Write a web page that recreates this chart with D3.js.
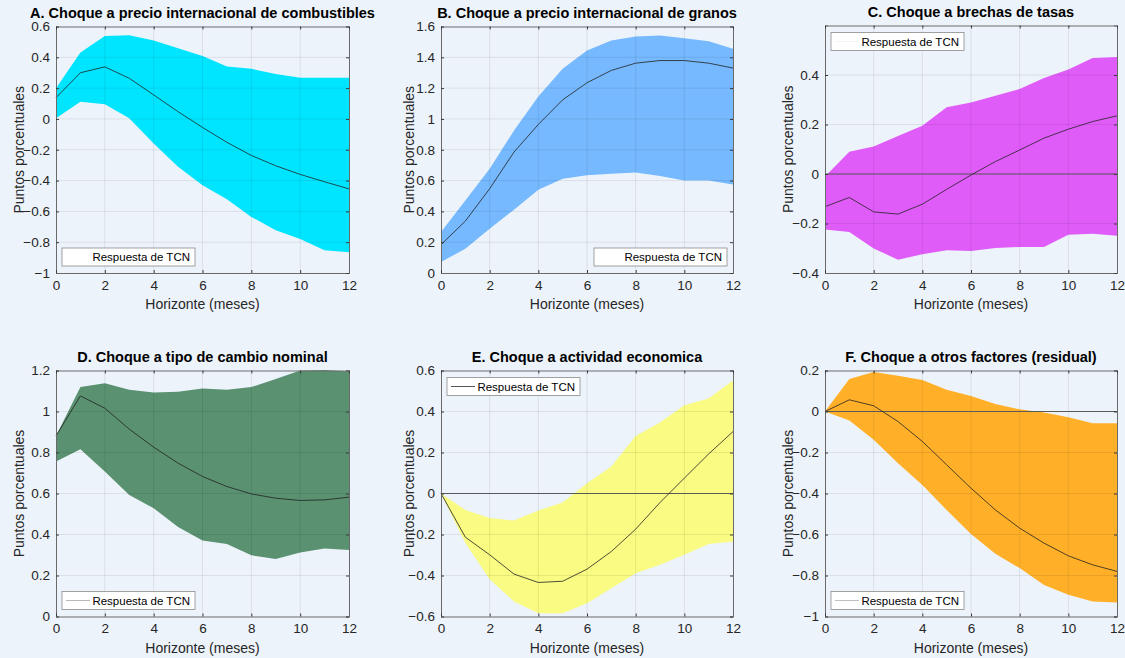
<!DOCTYPE html>
<html>
<head>
<meta charset="utf-8">
<title>Respuesta de TCN a choques</title>
<script src="https://cdn.jsdelivr.net/npm/d3@7"></script>
<style>
  body { margin: 0; background: #edf3fa; }
  svg { display: block; font-family: "Liberation Sans", Arial, Helvetica, sans-serif; }
</style>
</head>
<body>
<div id="chart"></div>
<script>
// horizonte en meses
var horizon = [0,1,2,3,4,5,6,7,8,9,10,11,12];

// A. combustibles
var meanA  = [0.138,0.300,0.338,0.264,0.156,0.047,-0.055,-0.152,-0.237,-0.304,-0.360,-0.408,-0.454];
var upperA = [0.200,0.431,0.539,0.544,0.509,0.459,0.409,0.340,0.325,0.292,0.268,0.268,0.268];
var lowerA = [0.004,0.112,0.095,0.004,-0.159,-0.310,-0.430,-0.521,-0.636,-0.722,-0.779,-0.853,-0.866];

// B. granos
var meanB  = [0.184,0.337,0.547,0.785,0.964,1.124,1.235,1.315,1.362,1.379,1.379,1.362,1.330];
var upperB = [0.266,0.471,0.677,0.925,1.146,1.325,1.444,1.509,1.535,1.542,1.524,1.505,1.455];
var lowerB = [0.071,0.158,0.288,0.411,0.541,0.612,0.634,0.644,0.653,0.629,0.601,0.601,0.575];

// C. brechas de tasas
var meanC  = [-0.132,-0.095,-0.153,-0.162,-0.122,-0.062,-0.004,0.050,0.097,0.145,0.181,0.212,0.235];
var upperC = [-0.010,0.090,0.111,0.154,0.195,0.270,0.289,0.316,0.343,0.388,0.422,0.469,0.473];
var lowerC = [-0.224,-0.234,-0.301,-0.346,-0.324,-0.308,-0.311,-0.299,-0.295,-0.295,-0.245,-0.241,-0.249];

// D. tipo de cambio nominal
var meanD  = [0.881,1.076,1.016,0.914,0.826,0.748,0.683,0.634,0.598,0.577,0.566,0.569,0.582];
var upperD = [0.880,1.119,1.138,1.106,1.093,1.096,1.112,1.106,1.119,1.158,1.200,1.203,1.195];
var lowerD = [0.756,0.816,0.707,0.593,0.528,0.436,0.371,0.354,0.299,0.280,0.312,0.332,0.325];

// E. actividad economica
var meanE  = [0,-0.213,-0.299,-0.393,-0.434,-0.428,-0.369,-0.283,-0.174,-0.044,0.075,0.193,0.302];
var upperE = [0,-0.080,-0.120,-0.132,-0.083,-0.044,0.050,0.132,0.281,0.346,0.431,0.463,0.551];
var lowerE = [0,-0.242,-0.418,-0.527,-0.584,-0.584,-0.535,-0.462,-0.389,-0.348,-0.299,-0.246,-0.234];

// F. otros factores (residual)
var meanF  = [0,0.057,0.028,-0.049,-0.146,-0.260,-0.374,-0.480,-0.569,-0.642,-0.704,-0.748,-0.780];
var upperF = [0,0.158,0.193,0.174,0.154,0.106,0.076,0.037,0.011,-0.005,-0.028,-0.057,-0.057];
var lowerF = [0,-0.044,-0.138,-0.252,-0.358,-0.480,-0.597,-0.694,-0.764,-0.846,-0.894,-0.927,-0.932];

var titles = [
  "A. Choque a precio internacional de combustibles",
  "B. Choque a precio internacional de granos",
  "C. Choque a brechas de tasas",
  "D. Choque a tipo de cambio nominal",
  "E. Choque a actividad economica",
  "F. Choque a otros factores (residual)"
];
var yDomains = [[-1,0.6],[0,1.6],[-0.4,0.6],[0,1.2],[-0.6,0.6],[-1,0.2]];
var yTicks = [
  [-1,-0.8,-0.6,-0.4,-0.2,0,0.2,0.4,0.6],
  [0,0.2,0.4,0.6,0.8,1,1.2,1.4,1.6],
  [-0.4,-0.2,0,0.2,0.4],
  [0,0.2,0.4,0.6,0.8,1,1.2],
  [-0.6,-0.4,-0.2,0,0.2,0.4,0.6],
  [-1,-0.8,-0.6,-0.4,-0.2,0,0.2]
];
var xTicks = [0,2,4,6,8,10,12];
var legendLabel = "Respuesta de TCN";

var W = 1125, H = 658;
var svg = d3.select("#chart").append("svg").attr("width", W).attr("height", H);
svg.append("rect").attr("width", W).attr("height", H).attr("fill", "#edf3fa");

// axes boxes (left, top, width, height)
var boxes = [
  [56, 26.5, 293, 246.5], [441, 26.5, 292, 246.5], [825, 25.5, 292, 247.5],
  [56, 370.5, 293, 246], [441, 370.5, 292, 246], [825, 370.5, 292, 246]
];
var colors = ["#00e5ff", "#76b9fe", "#e05cf9", "#5a9171", "#f9fb82", "#ffb028"];
var legendPos = ["bl", "br", "tl", "bl", "tl", "bl"];
var legendLine = ["#ffffff", "#ffffff", "#f4f4f4", "#b8b8b8", "#555555", "#c0c0c0"];
var zeroLine = [false, false, true, false, true, true];
var series = [
  [meanA, upperA, lowerA], [meanB, upperB, lowerB], [meanC, upperC, lowerC],
  [meanD, upperD, lowerD], [meanE, upperE, lowerE], [meanF, upperF, lowerF]
];

var fmt = function(d){ return d3.format("")(Math.round(d*10)/10); };

series.forEach(function(s, i){
  var b = boxes[i];
  var x = d3.scaleLinear().domain([0,12]).range([b[0], b[0]+b[2]]);
  var y = d3.scaleLinear().domain(yDomains[i]).range([b[1]+b[3], b[1]]);
  var g = svg.append("g");

  // band
  var area = d3.area()
    .x(function(d, j){ return x(horizon[j]); })
    .y0(function(d, j){ return y(s[2][j]); })
    .y1(function(d, j){ return y(s[1][j]); });
  g.append("path").datum(horizon).attr("d", area).attr("fill", colors[i]);

  // grid (drawn over the band, faint, like matlab)
  g.selectAll(".gx").data(xTicks.slice(1, -1)).enter().append("line")
    .attr("x1", function(d){ return x(d); }).attr("x2", function(d){ return x(d); })
    .attr("y1", b[1]).attr("y2", b[1]+b[3])
    .attr("stroke", "#000").attr("stroke-opacity", 0.1).attr("stroke-width", 0.8);
  g.selectAll(".gy").data(yTicks[i].filter(function(t){ return t > yDomains[i][0] && t < yDomains[i][1]; }))
    .enter().append("line")
    .attr("x1", b[0]).attr("x2", b[0]+b[2])
    .attr("y1", function(d){ return y(d); }).attr("y2", function(d){ return y(d); })
    .attr("stroke", "#000").attr("stroke-opacity", 0.1).attr("stroke-width", 0.8);

  if (zeroLine[i]) {
    g.append("line").attr("x1", b[0]).attr("x2", b[0]+b[2])
      .attr("y1", y(0)).attr("y2", y(0))
      .attr("stroke", "#5a5a5a").attr("stroke-width", 1);
  }

  // mean response
  var line = d3.line()
    .x(function(d, j){ return x(horizon[j]); })
    .y(function(d){ return y(d); });
  g.append("path").datum(s[0]).attr("d", line)
    .attr("fill", "none").attr("stroke", "#222").attr("stroke-width", 0.8);

  // axes
  var axL = d3.axisLeft(y).tickValues(yTicks[i]).tickSize(-3).tickPadding(6).tickFormat(fmt);
  var axB = d3.axisBottom(x).tickValues(xTicks).tickSize(-3).tickPadding(7);
  var axR = d3.axisRight(y).tickValues(yTicks[i]).tickSize(-3).tickFormat("");
  var axT = d3.axisTop(x).tickValues(xTicks).tickSize(-3).tickFormat("");
  [[axL, "translate(" + b[0] + ",0)"], [axB, "translate(0," + (b[1]+b[3]) + ")"],
   [axR, "translate(" + (b[0]+b[2]) + ",0)"], [axT, "translate(0," + b[1] + ")"]].forEach(function(a){
    var ag = g.append("g").attr("transform", a[1]).call(a[0]);
    ag.select(".domain").attr("stroke", "#6a6a6a").attr("stroke-width", 1);
    ag.selectAll(".tick line").attr("stroke", "#3a3a3a");
    ag.selectAll(".tick text").attr("fill", "#262626").style("font-size", "13.5px");
  });

  // labels
  g.append("text").attr("x", b[0] + b[2]/2).attr("y", b[1] - 8.5)
    .attr("text-anchor", "middle").style("font-size", "14.5px").style("font-weight", "bold")
    .attr("fill", "#000").text(titles[i]);
  g.append("text").attr("x", b[0] + b[2]/2).attr("y", b[1] + b[3] + 36)
    .attr("text-anchor", "middle").style("font-size", "14px").attr("fill", "#262626")
    .text("Horizonte (meses)");
  var lx = [18, 408, 787][i % 3] + 6;
  g.append("text").attr("transform", "translate(" + lx + "," + (b[1] + b[3]/2) + ") rotate(-90)")
    .attr("text-anchor", "middle").style("font-size", "14px").attr("fill", "#262626")
    .text("Puntos porcentuales");

  // legend
  var lw = 133, lh = 18, pos = legendPos[i];
  var lgx = pos[1] === "l" ? b[0] + 6 : b[0] + b[2] - 6 - lw;
  var lgy = pos[0] === "t" ? b[1] + 7 : b[1] + b[3] - 7 - lh;
  var lg = g.append("g").attr("transform", "translate(" + lgx + "," + lgy + ")");
  lg.append("rect").attr("width", lw).attr("height", lh)
    .attr("fill", "#fff").attr("stroke", "#8a8a8a").attr("stroke-width", 0.8);
  lg.append("line").attr("x1", 4).attr("x2", 28).attr("y1", lh/2).attr("y2", lh/2)
    .attr("stroke", legendLine[i]).attr("stroke-width", 1);
  lg.append("text").attr("x", lw - 5).attr("y", lh/2 + 4).attr("text-anchor", "end")
    .style("font-size", "11.5px").attr("fill", "#000").text(legendLabel);
});
</script>
</body>
</html>
